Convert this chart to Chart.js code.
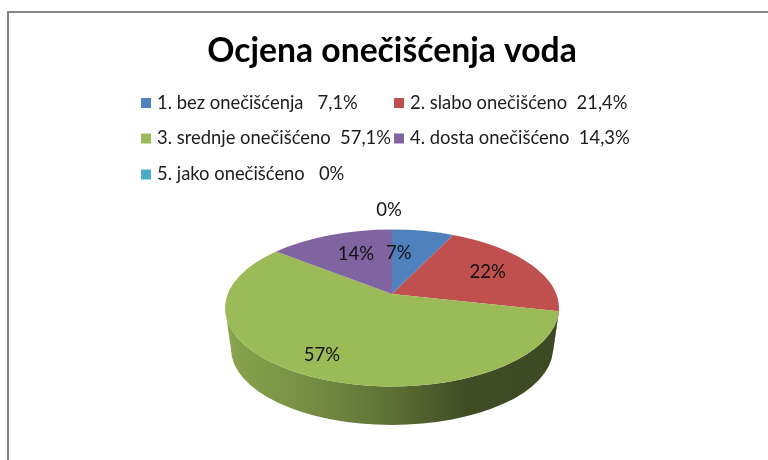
<!DOCTYPE html>
<html>
<head>
<meta charset="utf-8">
<script src="https://cdn.jsdelivr.net/npm/chart.js@4"></script>
<style>
    body { margin: 0; background: #fff; }
    #wrap { position: relative; width: 768px; height: 460px; overflow: hidden; }
    #frame { position: absolute; left: 7px; top: 11px; right: -5px; bottom: -5px; border: 2px solid #868686; }
    #myChart { position: absolute; left: 0; top: 0; }
</style>
</head>
<body>
<div id="wrap">
    <div id="frame"></div>
    <canvas id="myChart" width="768" height="460"></canvas>
</div>
<script>
let titleText = "Ocjena onečišćenja voda";
let categories = ["1. bez onečišćenja   7,1%", "2. slabo onečišćeno  21,4%", "3. srednje onečišćeno  57,1%", "4. dosta onečišćeno  14,3%", "5. jako onečišćeno   0%"];
let values = [7.1, 21.4, 57.1, 14.3, 0];
let sliceLabels = ["7%", "22%", "57%", "14%", "0%"];
let colors = ["#4f81bd", "#c0504d", "#9bbb59", "#8064a2", "#4bacc6"];

// pixels the slice labels sit away from their default spot
let labelNudge = [[-13, -1], [11, -3], [-23, 16], [3, -2], [-3, -43]];

const FONT = "Lato, Carlito, sans-serif";
const TILT = 78.5 / 167;     // ellipse height / width of the top face
const APEX_SHIFT = 14;       // pie centre sits above the ellipse centre (perspective)
const DEPTH = 55;            // bottom ellipse centre below the apex
const BOTTOM_RX = 161;
const BOTTOM_RY = 76;

// circle -> ellipse with the centre pushed up, so slices look like real perspective
function project(x, y, k) {
    let den = 1 - k * y;
    return [x * Math.sqrt(1 - k * k) / den, (y - k) / den];
}

function shade(hex, f) {
    let n = parseInt(hex.slice(1), 16);
    let r = Math.round((n >> 16) * f), g = Math.round(((n >> 8) & 255) * f), b = Math.round((n & 255) * f);
    return "rgb(" + r + "," + g + "," + b + ")";
}

const pie3d = {
    id: "pie3d",
    beforeDatasetDraw(chart, args) {
        let ctx = chart.ctx;
        let arcs = args.meta.data;
        arcs.forEach((arc, i) => {
            if (values[i] <= 0) return;
            let rx = arc.outerRadius, ry = rx * TILT;
            let ax = arc.x, ay = arc.y;
            let cy = ay + APEX_SHIFT;
            let k = APEX_SHIFT / ry;
            let th = (a) => {
                let p = project(Math.cos(a), Math.sin(a), k);
                return Math.atan2(p[1], p[0]);
            };
            let t1 = th(arc.startAngle), t2 = th(arc.endAngle);
            while (t2 <= t1) t2 += Math.PI * 2;

            // side wall, only the front half of the ellipse shows
            for (let off = 0; off <= 2 * Math.PI; off += 2 * Math.PI) {
                let w1 = Math.max(t1, off), w2 = Math.min(t2, off + Math.PI);
                if (w2 <= w1) continue;
                let by = ay + DEPTH;
                let g = ctx.createLinearGradient(ax - rx, 0, ax + rx, 0);
                g.addColorStop(0, shade(colors[i], 0.88));
                g.addColorStop(0.25, shade(colors[i], 0.76));
                g.addColorStop(0.5, shade(colors[i], 0.6));
                g.addColorStop(0.72, shade(colors[i], 0.41));
                g.addColorStop(1, shade(colors[i], 0.39));
                ctx.beginPath();
                ctx.ellipse(ax, cy, rx, ry, 0, w1, w2);
                ctx.ellipse(ax, by, BOTTOM_RX, BOTTOM_RY, 0, w2, w1, true);
                ctx.closePath();
                ctx.fillStyle = g;
                ctx.fill();
            }

            // top face
            ctx.beginPath();
            ctx.moveTo(ax, ay);
            ctx.ellipse(ax, cy, rx, ry, 0, t1, t2);
            ctx.closePath();
            ctx.fillStyle = colors[i];
            ctx.fill();
        });

        // slice labels
        ctx.fillStyle = "#111";
        ctx.font = "18.5px " + FONT;
        ctx.textAlign = "center";
        ctx.textBaseline = "middle";
        arcs.forEach((arc, i) => {
            let mid = (arc.startAngle + arc.endAngle) / 2;
            let rx = arc.outerRadius, ry = rx * TILT;
            let p = project(0.6 * Math.cos(mid), 0.6 * Math.sin(mid), APEX_SHIFT / ry);
            ctx.fillText(sliceLabels[i], arc.x + p[0] * rx + labelNudge[i][0], arc.y + APEX_SHIFT + p[1] * ry + labelNudge[i][1]);
        });
        return false;
    }
};

// two column legend, the built-in one can't line its columns up
const legend2col = {
    id: "legend2col",
    afterDraw(chart) {
        let ctx = chart.ctx;
        let colX = [141, 394];
        let rowY = [103, 138.5, 174.5];
        ctx.font = "18.4px " + FONT;
        ctx.textAlign = "left";
        ctx.textBaseline = "middle";
        categories.forEach((name, i) => {
            let x = colX[i % 2], y = rowY[Math.floor(i / 2)];
            ctx.fillStyle = colors[i];
            ctx.fillRect(x, y - 5, 10, 10);
            ctx.fillStyle = "#1c1c1c";
            ctx.fillText(name, x + 16, y);
        });
    }
};

const ctx = document.getElementById("myChart").getContext("2d");
const myChart = new Chart(ctx, {
    type: "pie",
    data: {
        labels: categories,
        datasets: [{
            data: values,
            backgroundColor: colors,
            borderWidth: 0,
            radius: 167
        }]
    },
    options: {
        responsive: false,
        animation: false,
        layout: { padding: { left: 16, right: 0, top: 0, bottom: 0 } },
        plugins: {
            legend: { display: false },
            tooltip: { enabled: false },
            title: {
                display: true,
                text: titleText,
                color: "#000",
                font: { family: FONT, size: 33.7, weight: "bold" },
                padding: { top: 31, bottom: 56.5 }
            }
        }
    },
    plugins: [pie3d, legend2col]
});
</script>
</body>
</html>
